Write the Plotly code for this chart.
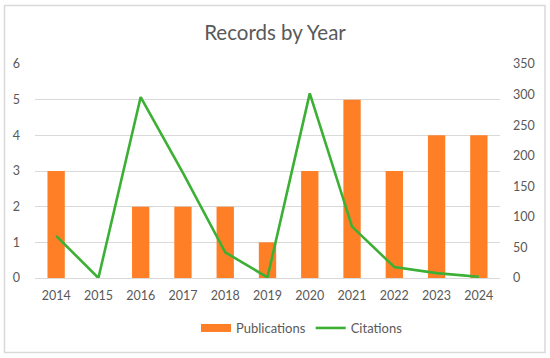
import plotly.graph_objects as go

years = ["2014", "2015", "2016", "2017", "2018", "2019", "2020", "2021", "2022", "2023", "2024"]
publications = [3, 0, 2, 2, 2, 1, 3, 5, 3, 4, 4]
citations = [69, 0, 296, 172, 42, 1, 302, 84, 18, 8, 2]

ORANGE = "#FF7F27"
GREEN = "#3CB034"
GRAY_TXT = "#595959"
GRID = "#D9D9D9"
FONT = "Lato, Open Sans, sans-serif"

fig = go.Figure()
fig.add_trace(go.Bar(x=years, y=publications, name="Publications",
                     marker=dict(color=ORANGE, line=dict(width=0)),
                     showlegend=False, yaxis="y"))
fig.add_trace(go.Scatter(x=years, y=citations, name="Citations", mode="lines",
                         line=dict(color=GREEN, width=2.6), yaxis="y2",
                         showlegend=False))
# legend entries
fig.add_trace(go.Scatter(x=[None], y=[None], name="Publications", mode="lines",
                         line=dict(color=ORANGE, width=8), yaxis="y"))
fig.add_trace(go.Scatter(x=[None], y=[None], name="Citations", mode="lines",
                         line=dict(color=GREEN, width=2.6), yaxis="y2"))

L, R, T, B = 35, 50, 64, 80
W, H = 550, 358
pw, ph = W - L - R, H - T - B

def px_x(p):
    return (p - L) / pw

def px_y(p):
    return (H - B - p) / ph

fig.update_layout(
    width=W, height=H,
    margin=dict(l=L, r=R, t=T, b=B),
    paper_bgcolor="white", plot_bgcolor="white",
    font=dict(family=FONT, size=12, color=GRAY_TXT),
    title=dict(text="Records by Year", x=0.5, xanchor="center",
               y=1 - 33 / H, yanchor="middle",
               font=dict(family=FONT, size=20.5, color=GRAY_TXT)),
    bargap=0.59,
    xaxis=dict(type="category", showgrid=False, showline=True, linecolor=GRID,
               linewidth=1, ticks="", ticklabelstandoff=6, zeroline=False,
               tickfont=dict(size=12.5)),
    yaxis=dict(range=[0, 6], dtick=1, showgrid=True, gridcolor=GRID, gridwidth=1,
               zeroline=False, showline=False, ticks="", ticklabelstandoff=14,
               tickfont=dict(size=12.5)),
    yaxis2=dict(range=[0, 350], dtick=50, overlaying="y", side="right",
                showgrid=False, zeroline=False, showline=False, ticks="",
                ticklabelstandoff=12, tickfont=dict(size=12.5)),
    legend=dict(orientation="h", x=px_x(302), xanchor="center",
                y=px_y(328), yanchor="middle", itemwidth=30,
                font=dict(family=FONT, size=13, color=GRAY_TXT),
                bgcolor="rgba(0,0,0,0)"),
    shapes=[dict(type="rect", xref="paper", yref="paper",
                 x0=px_x(4.5), x1=px_x(545), y0=px_y(352.5), y1=px_y(5.5),
                 line=dict(color=GRID, width=1.5), fillcolor="rgba(0,0,0,0)",
                 layer="below")],
)

fig.write_html("out.html", config={"displayModeBar": False},
               post_script="document.body.style.margin='0';document.body.style.overflow='hidden';")
